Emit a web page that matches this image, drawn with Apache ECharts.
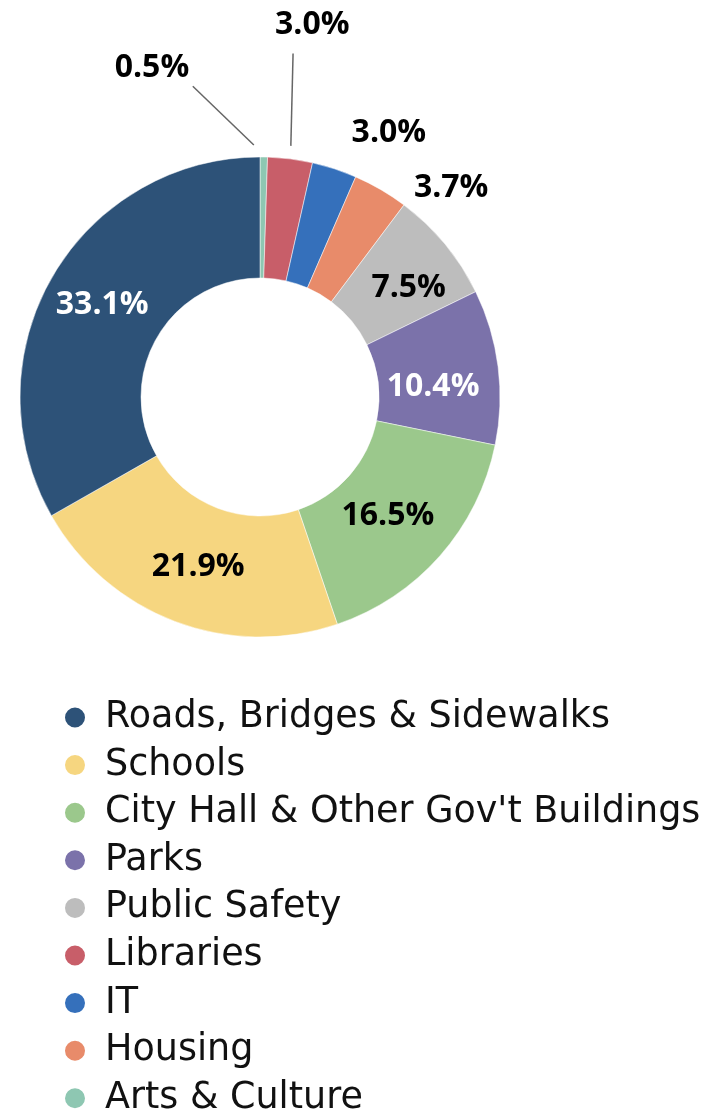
<!DOCTYPE html>
<html>
<head>
<meta charset="utf-8">
<script src="https://cdn.jsdelivr.net/npm/echarts@6/dist/echarts.min.js"></script>
<style>
  html, body { margin: 0; padding: 0; background: #ffffff; }
  #chart { width: 715px; height: 1112px; }
</style>
</head>
<body>
<div id="chart"></div>
<script>
// Slices in clockwise order starting from 12 o'clock
const categories = [
  'Arts & Culture',
  'Libraries',
  'IT',
  'Housing',
  'Public Safety',
  'Parks',
  "City Hall & Other Gov't Buildings",
  'Schools',
  'Roads, Bridges & Sidewalks'
];
const shares = [0.5, 3.0, 3.0, 3.7, 7.5, 10.4, 16.5, 21.9, 33.1];
const sliceColors = ['#8ec7b2', '#c85e69', '#3570bb', '#e88b6a', '#bdbdbd', '#7b72aa', '#9bc88c', '#f6d680', '#2d5278'];
const legendOrder = [
  'Roads, Bridges & Sidewalks',
  'Schools',
  "City Hall & Other Gov't Buildings",
  'Parks',
  'Public Safety',
  'Libraries',
  'IT',
  'Housing',
  'Arts & Culture'
];
const whiteLabels = ['Roads, Bridges & Sidewalks', 'Parks'];
const outsideLabels = ['Arts & Culture', 'Libraries', 'IT', 'Housing'];
const withLeader = ['Arts & Culture', 'Libraries'];

const CX = 260, CY = 397, R_IN = 119, R_OUT = 240;
// polar placement of outside labels: [radius, angle clockwise from 12 o'clock in degrees]
const outsidePlace = {
  'Arts & Culture': { label: [346, -18.2], line: [[252, -1.4], [318, -12.2]] },
  'Libraries': { label: [376, 8.0], line: [[253, 7.0], [345, 5.5]] },
  'IT': { label: [294, 26.0] },
  'Housing': { label: [283.5, 42.4] }
};
// small nudges of inside labels
const insideNudge = {
  'Public Safety': [8, 7],
  'Parks': [-8, 13],
  "City Hall & Other Gov't Buildings": [-9, -2],
  'Schools': [3, -1]
};
function polar(r, deg) {
  const a = deg * Math.PI / 180;
  return [CX + r * Math.sin(a), CY - r * Math.cos(a)];
}

const labelFont = '"Open Sans", "Liberation Sans", sans-serif';

const data = categories.map((name, i) => {
  const outside = outsideLabels.indexOf(name) >= 0;
  return {
    name: name,
    value: shares[i],
    itemStyle: { color: sliceColors[i] },
    label: {
      position: outside ? 'outside' : 'inside',
      color: whiteLabels.indexOf(name) >= 0 ? '#ffffff' : '#000000'
    },
    labelLine: { show: withLeader.indexOf(name) >= 0 }
  };
});

const chart = echarts.init(document.getElementById('chart'), null, { renderer: 'canvas' });
chart.setOption({
  backgroundColor: '#ffffff',
  animation: false,
  color: sliceColors,
  legend: {
    orient: 'vertical',
    left: 63,
    top: 699,
    height: 440,
    padding: 0,
    data: legendOrder,
    icon: 'circle',
    itemWidth: 50,
    itemHeight: 22,
    itemGap: 10.6,
    selectedMode: false,
    textStyle: {
      fontFamily: '"DejaVu Sans", sans-serif',
      fontSize: 36.5,
      color: '#111111'
    }
  },
  series: [{
    type: 'pie',
    center: [CX, CY],
    radius: [R_IN, R_OUT],
    startAngle: 90,
    clockwise: true,
    avoidLabelOverlap: false,
    itemStyle: { borderColor: '#ffffff', borderWidth: 0.5 },
    label: {
      show: true,
      fontFamily: labelFont,
      fontWeight: 'bold',
      fontSize: 32,
      formatter: p => p.value.toFixed(1) + '%'
    },
    labelLine: {
      show: false,
      length: 20,
      length2: 0,
      lineStyle: { color: '#666666', width: 1.5 }
    },
    labelLayout: function (params) {
      const name = categories[params.dataIndex];
      const place = outsidePlace[name];
      if (!place) {
        const n = insideNudge[name];
        return n ? { dx: n[0], dy: n[1] } : {};
      }
      const pos = polar(place.label[0], place.label[1]);
      const out = { x: pos[0], y: pos[1], align: 'center', verticalAlign: 'middle' };
      if (place.line) {
        const p0 = polar(place.line[0][0], place.line[0][1]);
        const p1 = polar(place.line[1][0], place.line[1][1]);
        out.labelLinePoints = [p0, p1, p1];
      }
      return out;
    },
    data: data
  }]
});
</script>
</body>
</html>
